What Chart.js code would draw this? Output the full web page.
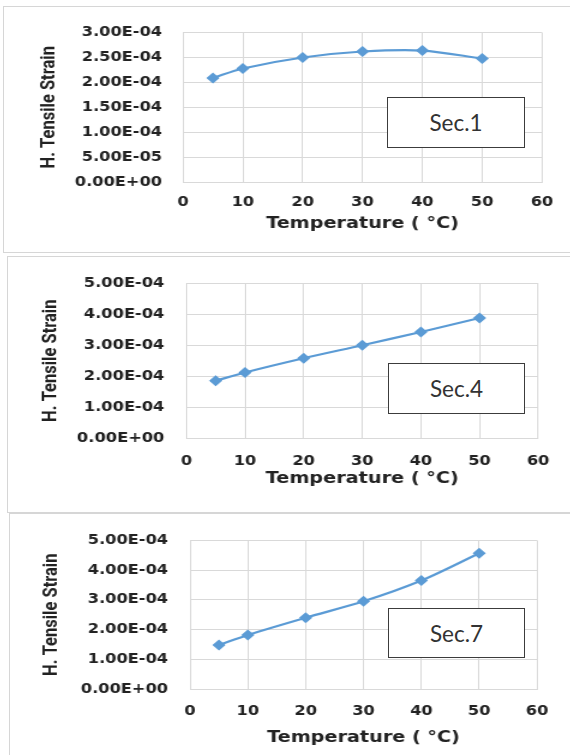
<!DOCTYPE html>
<html>
<head>
<meta charset="utf-8">
<script src="https://cdn.jsdelivr.net/npm/chart.js@4.4.1/dist/chart.umd.min.js"></script>
<style>
  html, body { margin: 0; padding: 0; background: #fff; width: 570px; height: 755px; overflow: hidden; }
  body { position: relative; }
  .panel { position: absolute; box-sizing: border-box; border: 1px solid #d6d6d6; background: #fff; overflow: hidden; }
  .stretch { position: absolute; left: 0; top: 0; transform-origin: 0 0; }
  .sec { position: absolute; box-sizing: border-box; border: 1.5px solid #3c3c3c; background: #fff;
         color: #333; font: 22.5px Lato, "Open Sans", sans-serif;
         display: flex; align-items: center; justify-content: center; }
</style>
</head>
<body>
<div class="panel" id="p0"><div class="stretch"><canvas id="c0"></canvas></div></div>
<div class="panel" id="p1"><div class="stretch"><canvas id="c1"></canvas></div></div>
<div class="panel" id="p2"><div class="stretch"><canvas id="c2"></canvas></div></div>
<div class="sec" id="s0"></div>
<div class="sec" id="s1"></div>
<div class="sec" id="s2"></div>

<script>
// data
const temps = [5, 10, 20, 30, 40, 50];
const xTicks = ['0', '10', '20', '30', '40', '50', '60'];

const strainSec1 = [2.09e-4, 2.28e-4, 2.50e-4, 2.62e-4, 2.64e-4, 2.48e-4];
const strainSec4 = [1.85e-4, 2.12e-4, 2.58e-4, 3.00e-4, 3.43e-4, 3.88e-4];
const strainSec7 = [1.48e-4, 1.82e-4, 2.40e-4, 2.95e-4, 3.65e-4, 4.57e-4];

const yTicksSec1 = ['0.00E+00', '5.00E-05', '1.00E-04', '1.50E-04', '2.00E-04', '2.50E-04', '3.00E-04'];
const yTicksSec4 = ['0.00E+00', '1.00E-04', '2.00E-04', '3.00E-04', '4.00E-04', '5.00E-04'];
const yTicksSec7 = ['0.00E+00', '1.00E-04', '2.00E-04', '3.00E-04', '4.00E-04', '5.00E-04'];

const sections = ['Sec.1', 'Sec.4', 'Sec.7'];
const xTitle = 'Temperature ( °C)';
const yTitle = 'H. Tensile Strain';

// the original figure is stretched sideways, so each chart is drawn narrow and scaled out
const STRETCH = 1.2;
const BLUE = '#5b9bd5';
const GRID = '#d9d9d9';
const INK = '#222';

// page positions of each panel (px)
const layouts = [
  { frame: [3, 6, 572, 247],   plot: [183, 23, 542, 182],  yLabelRight: 162, yTitleX: 50, xLabelY: 202, xTitleY: 224, box: [387, 97, 138, 51] },
  { frame: [7, 256, 568, 257], plot: [186, 273, 537, 438], yLabelRight: 164, yTitleX: 51, xLabelY: 461, xTitleY: 479, box: [388, 363, 137, 51] },
  { frame: [9, 513, 566, 250], plot: [190, 531, 537, 689], yLabelRight: 168, yTitleX: 52, xLabelY: 711, xTitleY: 738, box: [388, 608, 137, 50] }
];

const series = [strainSec1, strainSec4, strainSec7];
const yTickSets = [yTicksSec1, yTicksSec4, yTicksSec7];

const tickFont = { family: 'DejaVu Sans', weight: 'bold', size: 13.5, lineHeight: 1.2 };
const xTitleFont = { family: 'DejaVu Sans', weight: 'bold', size: 16, lineHeight: 1.2 };
const yTitleFont = { family: 'Roboto', weight: 'bold', size: 16.5, lineHeight: 1.2 };

function drawPanel(i) {
  const L = layouts[i];
  const [fx, fy, fw, fh] = L.frame;
  const panel = document.getElementById('p' + i);
  panel.style.left = fx + 'px';
  panel.style.top = fy + 'px';
  panel.style.width = fw + 'px';
  panel.style.height = fh + 'px';

  const ix = fx + 1, iy = fy + 1;
  const W = (fw - 2) / STRETCH;
  const H = fh - 2;
  const wrap = panel.querySelector('.stretch');
  wrap.style.width = W + 'px';
  wrap.style.height = H + 'px';
  wrap.style.transform = 'scaleX(' + STRETCH + ')';

  const plotL = (L.plot[0] - ix) / STRETCH;
  const plotR = (L.plot[2] - ix) / STRETCH;
  const plotT = L.plot[1] - iy;
  const plotB = L.plot[3] - iy;

  const yLh = yTitleFont.size * yTitleFont.lineHeight;
  const padLeft = (L.yTitleX - ix) / STRETCH - yLh / 2;
  const yWidth = plotL - padLeft;
  const yTickPad = plotL - (L.yLabelRight - ix) / STRETCH;

  const tickLh = tickFont.size * tickFont.lineHeight;
  const xTickPad = (L.xLabelY - iy) - plotB - tickLh / 2;
  const xLh = xTitleFont.size * xTitleFont.lineHeight;
  const xTitlePadBottom = H - (L.xTitleY - iy) - xLh / 2;

  const labels = yTickSets[i];

  new Chart(document.getElementById('c' + i), {
    type: 'line',
    data: {
      datasets: [{
        data: temps.map((t, k) => ({ x: t, y: series[i][k] })),
        borderColor: BLUE,
        backgroundColor: BLUE,
        borderWidth: 2.2,
        tension: 0.3,
        pointStyle: 'rectRot',
        pointRadius: 5.5,
        pointBorderWidth: 0
      }]
    },
    options: {
      responsive: true,
      maintainAspectRatio: false,
      animation: false,
      layout: { padding: { left: padLeft, top: plotT, right: W - plotR, bottom: 0 } },
      plugins: { legend: { display: false }, tooltip: { enabled: false } },
      scales: {
        x: {
          type: 'linear',
          min: 0,
          max: 60,
          afterBuildTicks: s => { s.ticks = xTicks.map(v => ({ value: Number(v) })); },
          afterFit: s => { s.height = H - plotB; },
          grid: { color: GRID, drawTicks: false },
          border: { color: GRID },
          ticks: {
            padding: xTickPad, maxRotation: 0, autoSkip: false,
            color: INK, font: tickFont,
            callback: (v, idx) => xTicks[idx]
          },
          title: {
            display: true, text: xTitle, color: INK, font: xTitleFont,
            padding: { top: 0, bottom: xTitlePadBottom }
          }
        },
        y: {
          min: 0,
          max: Number(labels[labels.length - 1]),
          afterBuildTicks: s => { s.ticks = labels.map(v => ({ value: Number(v) })); },
          afterFit: s => { s.width = yWidth; },
          grid: { color: GRID, drawTicks: false },
          border: { color: GRID },
          ticks: {
            padding: yTickPad, autoSkip: false,
            color: INK, font: tickFont,
            callback: (v, idx) => labels[idx]
          },
          title: {
            display: true, text: yTitle, color: INK, font: yTitleFont,
            padding: 0
          }
        }
      }
    }
  });

  const box = document.getElementById('s' + i);
  box.textContent = sections[i];
  box.style.left = L.box[0] + 'px';
  box.style.top = L.box[1] + 'px';
  box.style.width = L.box[2] + 'px';
  box.style.height = L.box[3] + 'px';
}

[0, 1, 2].forEach(drawPanel);
</script>
</body>
</html>
